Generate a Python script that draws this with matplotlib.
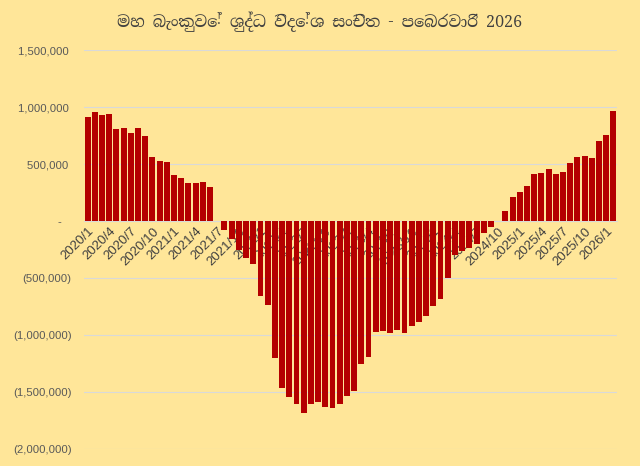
import matplotlib
matplotlib.use("Agg")
import matplotlib.pyplot as plt
from matplotlib import font_manager
from matplotlib.ticker import FuncFormatter

# ---- data ----
months = [f"{y}/{m}" for y in range(2020, 2027) for m in range(1, 13)][:74]
values = [
    912000, 958000, 929000, 938000, 807000, 813000, 775000, 813000, 748000, 562000,
    530000, 518000, 405000, 381000, 335000, 335000, 341000, 300000, 0, -80000,
    -160000, -250000, -320000, -380000, -658000, -731000, -1199000, -1459000, -1541000, -1605000,
    -1678000, -1605000, -1582000, -1629000, -1635000, -1605000, -1535000, -1488000, -1251000, -1187000,
    -974000, -959000, -977000, -955000, -980000, -915000, -883000, -830000, -745000, -686000,
    -497000, -300000, -265000, -235000, -200000, -100000, -54000, 0, 85000, 213000,
    259000, 306000, 417000, 423000, 455000, 417000, 431000, 507000, 560000, 571000,
    554000, 703000, 755000, 965000,
]
tick_labels = months[::3]
yticks = [1500000, 1000000, 500000, 0, -500000, -1000000, -1500000, -2000000]
title = "මහ බැංකුවේ ශුද්ධ විදේශ සංචිත - පෙබරවාරි 2026"

# ---- fonts ----
names = {f.name for f in font_manager.fontManager.ttflist}
sinhala = sorted(n for n in names if "Sinhala" in n or "Iskoola" in n)
serif_first = [n for n in sinhala if "Serif" in n] + [n for n in sinhala if "Serif" not in n]
title_family = serif_first + ["Liberation Serif", "DejaVu Sans"]

bg = "#FFE699"
bar_color = "#B40000"
text_color = "#595959"

fig = plt.figure(figsize=(6.4, 4.66), dpi=100, facecolor=bg)
ax = fig.add_axes([84 / 640, 1 - 449.3 / 466, 533 / 640, (449.3 - 50) / 466])
ax.set_facecolor(bg)

x = list(range(len(values)))
ax.bar(x, values, width=0.82, color=bar_color, zorder=3)

ax.set_xlim(-0.5, len(values) - 0.5)
ax.set_ylim(-2000000, 1500000)
ax.set_yticks(yticks)


def fmt(v, pos):
    if v == 0:
        return "-   "
    if v > 0:
        return f"{v:,.0f} "
    return f"({-v:,.0f})"


ax.yaxis.set_major_formatter(FuncFormatter(fmt))
ax.grid(axis="y", color="#D9D9D9", linewidth=0.8, zorder=0)
ax.set_axisbelow(True)

for s in ["top", "right", "left"]:
    ax.spines[s].set_visible(False)
ax.spines["bottom"].set_position(("data", 0))
ax.spines["bottom"].set_color("#D9D9D9")
ax.spines["bottom"].set_linewidth(0.8)
ax.spines["bottom"].set_zorder(1)

ax.set_xticks(x[::3])
ax.set_xticklabels(tick_labels, rotation=45, ha="right", va="top",
                   rotation_mode="anchor", fontsize=9.5, color="#404040",
                   family="Liberation Sans")
ax.tick_params(axis="x", length=0, pad=3)
ax.tick_params(axis="y", length=0, pad=9, labelsize=8.2, labelcolor=text_color)
for lab in ax.get_yticklabels():
    lab.set_family("Liberation Sans")

fig.text(0.5, 1 - 22 / 466, title, ha="center", va="center", fontsize=11.5,
         color="#404040", family=title_family)

fig.savefig("out.png", dpi=100, facecolor=bg)
